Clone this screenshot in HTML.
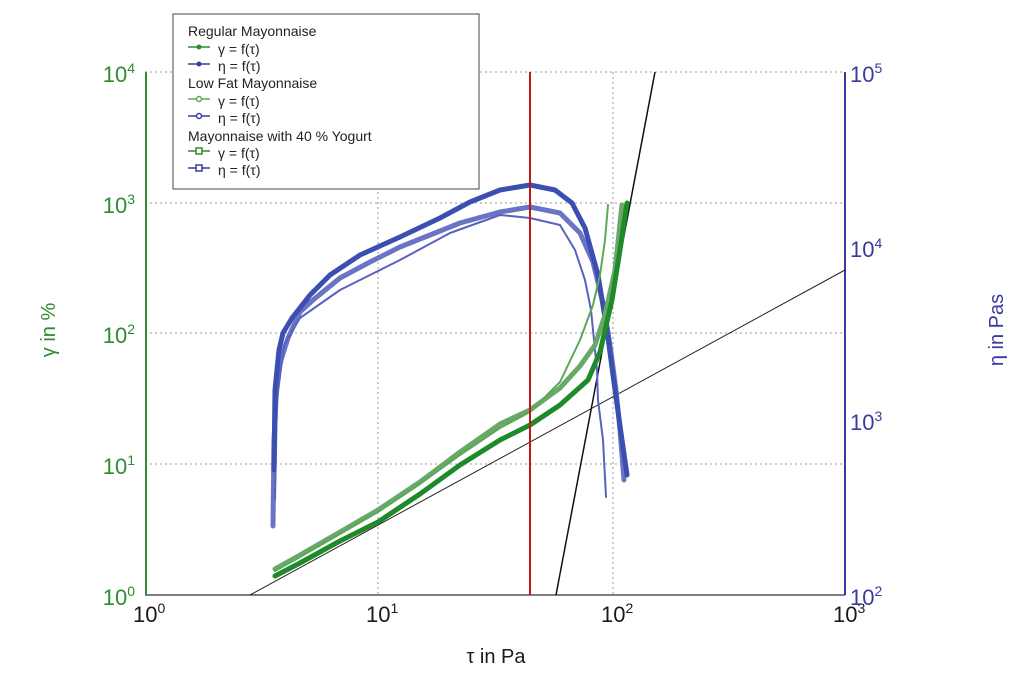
<!DOCTYPE html>
<html><head><meta charset="utf-8"><style>
body{margin:0;background:#fff;}
svg{display:block;font-family:"Liberation Sans",sans-serif;}
</style></head><body>
<svg width="1026" height="677" viewBox="0 0 1026 677">
<rect width="1026" height="677" fill="#fff"/>
<g stroke="#999" stroke-dasharray="2,3" stroke-width="1">
<line x1="378" y1="72" x2="378" y2="595"/>
<line x1="613" y1="72" x2="613" y2="595"/>
<line x1="145" y1="203" x2="845" y2="203"/>
<line x1="145" y1="333" x2="845" y2="333"/>
<line x1="145" y1="464" x2="845" y2="464"/>
<line x1="145" y1="72" x2="845" y2="72"/>
</g>
<line x1="145" y1="595" x2="845" y2="595" stroke="#555" stroke-width="1.5"/>
<line x1="146" y1="72" x2="146" y2="595" stroke="#2e8b2e" stroke-width="2"/>
<line x1="845" y1="72" x2="845" y2="595" stroke="#3a3aa0" stroke-width="2"/>
<g font-size="22" fill="#1a1a1a">
<text x="133" y="622">10<tspan dy="-9" font-size="14">0</tspan></text>
<text x="366" y="622">10<tspan dy="-9" font-size="14">1</tspan></text>
<text x="601" y="622">10<tspan dy="-9" font-size="14">2</tspan></text>
<text x="833" y="622">10<tspan dy="-9" font-size="14">3</tspan></text>
</g>
<g font-size="22" fill="#2e8b2e" text-anchor="end">
<text x="135" y="82">10<tspan dy="-9" font-size="14">4</tspan></text>
<text x="135" y="213">10<tspan dy="-9" font-size="14">3</tspan></text>
<text x="135" y="343">10<tspan dy="-9" font-size="14">2</tspan></text>
<text x="135" y="474">10<tspan dy="-9" font-size="14">1</tspan></text>
<text x="135" y="605">10<tspan dy="-9" font-size="14">0</tspan></text>
</g>
<g font-size="22" fill="#3a3aa0">
<text x="850" y="82">10<tspan dy="-9" font-size="14">5</tspan></text>
<text x="850" y="257">10<tspan dy="-9" font-size="14">4</tspan></text>
<text x="850" y="430">10<tspan dy="-9" font-size="14">3</tspan></text>
<text x="850" y="605">10<tspan dy="-9" font-size="14">2</tspan></text>
</g>
<text x="496" y="663" font-size="20" fill="#1a1a1a" text-anchor="middle">τ in Pa</text>
<text transform="translate(55,330) rotate(-90)" font-size="20" fill="#2e8b2e" text-anchor="middle">γ in %</text>
<text transform="translate(1003,330) rotate(-90)" font-size="20" fill="#3a3aa0" text-anchor="middle">η in Pas</text>
<line x1="250" y1="595" x2="845" y2="270" stroke="#222" stroke-width="1"/>
<line x1="556" y1="595" x2="655" y2="72" stroke="#111" stroke-width="1.5"/>
<g fill="none" stroke-linejoin="round" stroke-linecap="round">
<polyline stroke="#6a74c4" stroke-width="5" points="273,526 274,440 277,380 281,360 288,338 300,312 313,300 340,278 370,262 400,247 430,235 460,223 500,212 530,207 560,213 580,233 593,262 603,303 610,345 616,390 620,430 624,480"/>
<polyline stroke="#5a62c0" stroke-width="2" points="275,500 277,400 284,345 300,318 340,290 370,275 400,260 450,233 500,215 530,218 560,225 575,250 585,280 591,310 594,340 597,370 598,400 603,440 606,497"/>
<polyline stroke="#3b4fb0" stroke-width="5" points="274,470 275,390 279,350 283,333 292,318 310,295 330,275 360,255 400,237 440,218 470,202 500,190 530,185 555,190 572,203 585,228 598,275 607,330 615,390 622,440 627,475"/>
</g>
<g fill="none" stroke-linejoin="round" stroke-linecap="round">
<polyline stroke="#6aa86a" stroke-width="5" points="275,569 300,555 340,532 378,510 420,482 460,452 500,424 530,410 560,388 580,366 595,345 605,315 615,270 622,205"/>
<polyline stroke="#5aa85a" stroke-width="2" points="275,571 300,557 340,534 378,512 420,484 460,455 500,428 530,412 560,382 580,340 593,305 600,275 605,240 608,205"/>
<polyline stroke="#1f8a2a" stroke-width="5" points="275,576 300,563 340,541 378,522 420,494 460,465 500,440 530,425 560,405 588,380 600,352 612,300 620,250 627,203"/>
</g>
<line x1="530" y1="72" x2="530" y2="595" stroke="#c0181a" stroke-width="2"/>
<rect x="173" y="14" width="306" height="175" fill="#fff" stroke="#444" stroke-width="1"/>
<g font-size="14" fill="#222">
<text x="188" y="36">Regular Mayonnaise</text>
<text x="218" y="54">γ = f(τ)</text>
<text x="218" y="71">η = f(τ)</text>
<text x="188" y="88">Low Fat Mayonnaise</text>
<text x="218" y="106">γ = f(τ)</text>
<text x="218" y="123">η = f(τ)</text>
<text x="188" y="141">Mayonnaise with 40 % Yogurt</text>
<text x="218" y="158">γ = f(τ)</text>
<text x="218" y="175">η = f(τ)</text>
</g>
<g stroke-width="1.5">
<line x1="188" y1="47" x2="210" y2="47" stroke="#2e8b2e"/><circle cx="199" cy="47" r="2.5" fill="#2e8b2e"/>
<line x1="188" y1="64" x2="210" y2="64" stroke="#3a3aa0"/><circle cx="199" cy="64" r="2.5" fill="#3a3aa0"/>
<line x1="188" y1="99" x2="210" y2="99" stroke="#5aa85a"/><circle cx="199" cy="99" r="2.5" fill="#fff" stroke="#5aa85a"/>
<line x1="188" y1="116" x2="210" y2="116" stroke="#3a3aa0"/><circle cx="199" cy="116" r="2.5" fill="#fff" stroke="#3a3aa0"/>
<line x1="188" y1="151" x2="210" y2="151" stroke="#2e8b2e"/><rect x="196" y="148" width="6" height="6" fill="#fff" stroke="#2e8b2e"/>
<line x1="188" y1="168" x2="210" y2="168" stroke="#3a3aa0"/><rect x="196" y="165" width="6" height="6" fill="#fff" stroke="#3a3aa0"/>
</g>
</svg>
</body></html>
